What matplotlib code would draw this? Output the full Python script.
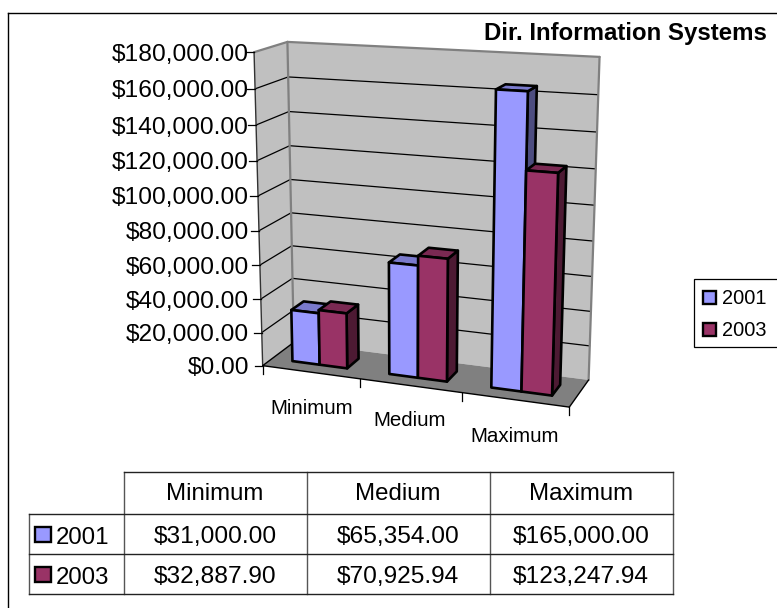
import numpy as np
import matplotlib
matplotlib.use("Agg")
import matplotlib.pyplot as plt
from matplotlib.patches import Polygon, Rectangle

plt.rcParams['font.family'] = ['Liberation Sans', 'DejaVu Sans']

categories = ["Minimum", "Medium", "Maximum"]
series_names = ["2001", "2003"]
values_2001 = [31000.00, 65354.00, 165000.00]
values_2003 = [32887.90, 70925.94, 123247.94]
table_2001 = ["$31,000.00", "$65,354.00", "$165,000.00"]
table_2003 = ["$32,887.90", "$70,925.94", "$123,247.94"]
y_ticks = [0, 20000, 40000, 60000, 80000, 100000, 120000, 140000, 160000, 180000]
title = "Dir. Information Systems"

W, H = 777, 608
Y_MAX = 180000.0
COL_2001 = ("#9999FF", "#7A7ACC", "#4D4D80")
COL_2003 = ("#993366", "#7A2952", "#4D1A33")

fig = plt.figure(figsize=(W / 100, H / 100), dpi=100)
ax = fig.add_axes([0, 0, 1, 1])
ax.set_xlim(0, W)
ax.set_ylim(H, 0)
ax.axis("off")


def px(p):
    return p * 0.72


# Camera fitted to the plot box: (category, depth, value fraction) -> canvas
box_3d = np.array([[0, 0, 1], [0, 0, 0], [0, 1, 1], [0, 1, 0],
                   [3, 1, 1], [3, 1, 0], [3, 0, 0]], float)
box_2d = np.array([[253.5, 52], [263.5, 365], [288, 42], [293, 343],
                   [599.5, 57], [589, 379], [569, 408]], float)
rows = []
for (a, b, c), (u, v) in zip(box_3d, box_2d):
    rows.append([a, b, c, 1, 0, 0, 0, 0, -u * a, -u * b, -u * c, -u])
    rows.append([0, 0, 0, 0, a, b, c, 1, -v * a, -v * b, -v * c, -v])
CAM = np.linalg.svd(np.array(rows))[2][-1].reshape(3, 4)


def proj(cat, depth, val):
    h = CAM @ np.array([cat, depth, val / Y_MAX, 1.0])
    return h[0] / h[2], h[1] / h[2]


def face(points, color, z, lw=0, ec="none"):
    ax.add_patch(Polygon([proj(*p) for p in points], closed=True, fc=color,
                         ec=ec, lw=lw, zorder=z, joinstyle="round"))


def seg(a, b, color="black", lw=1.0, z=3):
    pa, pb = proj(*a), proj(*b)
    ax.plot([pa[0], pb[0]], [pa[1], pb[1]], color=color, lw=lw, zorder=z,
            solid_capstyle="round")


# walls and floor
face([(0, 0, 0), (0, 1, 0), (0, 1, Y_MAX), (0, 0, Y_MAX)], "#C0C0C0", 1)
face([(0, 1, 0), (3, 1, 0), (3, 1, Y_MAX), (0, 1, Y_MAX)], "#C0C0C0", 1)
face([(0, 0, 0), (3, 0, 0), (3, 1, 0), (0, 1, 0)], "#808080", 2)

# gridlines
for t in y_ticks[1:-1]:
    seg((0, 0, t), (0, 1, t), lw=0.9)
    seg((0, 1, t), (3, 1, t), lw=0.9)

# wall edges
seg((0, 1, Y_MAX), (3, 1, Y_MAX), "#808080", 1.6, 3)
seg((3, 1, Y_MAX), (3, 1, 0), "#808080", 1.6, 3)
seg((0, 1, Y_MAX), (0, 1, 0), "#808080", 1.6, 3)
seg((0, 0, Y_MAX), (0, 1, Y_MAX), "#808080", 1.6, 3)

# axes lines
seg((0, 0, 0), (0, 0, Y_MAX), "#333333", 1.0, 4)
seg((0, 0, 0), (3, 0, 0), "black", 1.0, 4)
seg((3, 0, 0), (3, 1, 0), "black", 1.0, 4)
seg((0, 0, 0), (0, 1, 0), "black", 1.0, 4)

# y ticks and labels
for t in y_ticks:
    x0, y0 = proj(0, 0, t)
    ax.plot([x0 - 8, x0], [y0, y0], color="black", lw=0.9, zorder=4)
    ax.text(249, y0, f"${t:,.2f}", ha="right", va="center_baseline",
            fontsize=px(24.5), zorder=6)

# x ticks and labels
label_xy = [(312, 407), (410, 419), (515, 435)]
for i in range(len(categories) + 1):
    x0, y0 = proj(i, 0, 0)
    ax.plot([x0, x0], [y0, y0 + 8], color="black", lw=0.9, zorder=4)
for name, (lx, ly) in zip(categories, label_xy):
    ax.text(lx, ly, name, ha="center", va="center_baseline", fontsize=px(20.5), zorder=6)

# bars
BAR_W = 1 / 3.5
GAP = 0.75 * BAR_W
D0, D1 = 0.3, 0.7
z = 10
for c in range(len(categories)):
    for s, (vals, cols) in enumerate([(values_2001, COL_2001), (values_2003, COL_2003)]):
        v = vals[c]
        a = c + GAP + s * BAR_W
        b = a + BAR_W
        lw = 1.9
        face([(b, D0, 0), (b, D1, 0), (b, D1, v), (b, D0, v)], cols[2], z, lw, "black")
        face([(a, D0, v), (b, D0, v), (b, D1, v), (a, D1, v)], cols[1], z + 1, lw, "black")
        face([(a, D0, 0), (b, D0, 0), (b, D0, v), (a, D0, v)], cols[0], z + 2, lw, "black")
        z += 3

# title
ax.text(767, 31, title, ha="right", va="center_baseline", fontsize=px(24), fontweight="bold", zorder=6)

# legend
ax.add_patch(Rectangle((694, 279), 90, 68, fc="white", ec="black", lw=0.9, zorder=5))
for name, cols, yy in zip(series_names, (COL_2001, COL_2003), (297, 329)):
    ax.add_patch(Rectangle((702.5, yy - 6.5), 13, 13, fc=cols[0], ec="black", lw=1.7, zorder=6))
    ax.text(722, yy, name, ha="left", va="center_baseline", fontsize=px(20), zorder=6)

# data table
xs = [29, 123.5, 306.5, 489.5, 672.5]
ys = [471.5, 514, 554, 594]
GR = "#555555"
for x in xs[1:]:
    ax.plot([x, x], [ys[0], ys[-1]], color=GR, lw=1.0, zorder=5)
ax.plot([xs[0], xs[0]], [ys[1], ys[-1]], color=GR, lw=1.0, zorder=5)
ax.plot([xs[1], xs[-1]], [ys[0], ys[0]], color="#222222", lw=1.0, zorder=5)
for yy in ys[1:]:
    ax.plot([xs[0], xs[-1]], [yy, yy], color="#222222", lw=1.0, zorder=5)
for i, name in enumerate(categories):
    ax.text((xs[i + 1] + xs[i + 2]) / 2, 492, name, ha="center", va="center_baseline",
            fontsize=px(24), zorder=6)
for r, (lab, texts, cols) in enumerate(zip(series_names, (table_2001, table_2003), (COL_2001, COL_2003))):
    yc = (ys[r + 1] + ys[r + 2]) / 2
    ax.add_patch(Rectangle((35, yc - 7), 15.5, 14.5, fc=cols[0], ec="black", lw=1.7, zorder=6))
    ax.text(56, yc + 1, lab, ha="left", va="center_baseline", fontsize=px(24), zorder=6)
    for i, tx in enumerate(texts):
        ax.text((xs[i + 1] + xs[i + 2]) / 2, yc, tx, ha="center", va="center_baseline",
                fontsize=px(24.5), zorder=6)

# frame
ax.plot([7.5, 7.5], [H, 12.5], color="black", lw=1.0, zorder=7)
ax.plot([7.5, W], [12.5, 12.5], color="black", lw=1.0, zorder=7)

fig.savefig("out.png", dpi=100)
